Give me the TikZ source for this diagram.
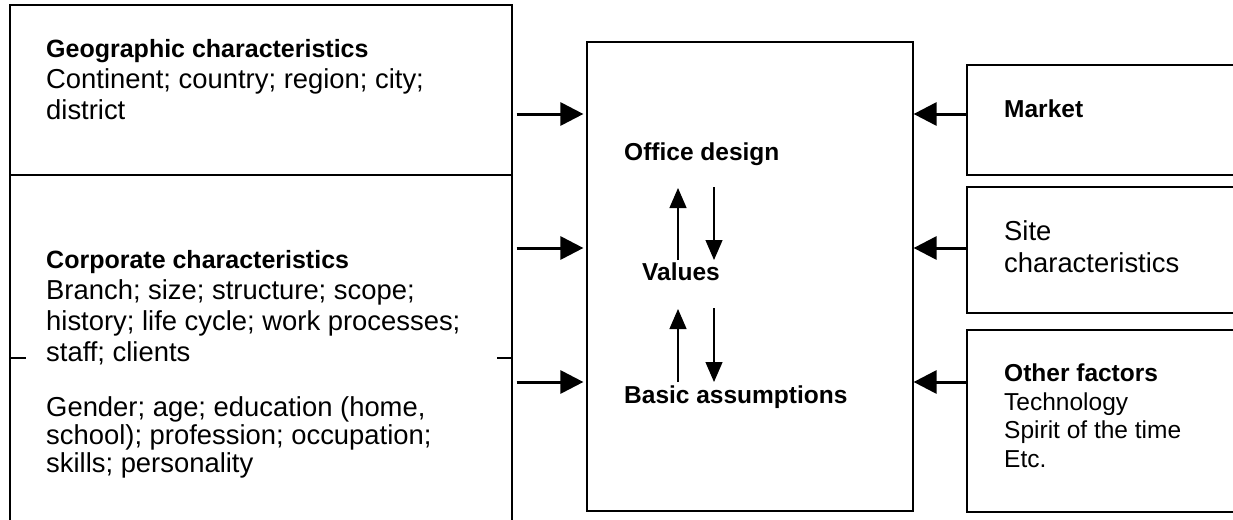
\documentclass[tikz,border=0pt]{standalone}
\usepackage{fontspec}
\setmainfont{Liberation Sans}
\usetikzlibrary{arrows.meta,positioning}

\newcommand{\headfont}{\fontsize{25}{31}\bfseries}
\tikzset{
    panel/.style={draw, line width=1.2pt, inner sep=0pt},
    txt/.style={anchor=base west, align=left, inner sep=0pt,
                font=\fontsize{24.5}{28.5}\selectfont},
    bigtxt/.style={txt, font=\fontsize{27.4}{31}\selectfont},
    bigarrow/.style={line width=3pt, -{Triangle[length=23pt,width=23pt]}},
    thinarrow/.style={line width=1.2pt, -{Triangle[length=20pt,width=17pt]}},
}

\begin{document}
\begin{tikzpicture}[x=1pt,y=-1pt]
                    \useasboundingbox (0,0) rectangle (1233,519);

                    % left column (text nodes sit on the baseline of their last line)
                    \node[panel, minimum width=502pt, minimum height=170pt] (geo) at (261,90) {};
                    \node[panel, minimum width=502pt, minimum height=365pt] (corp) at (261,357.5) {};
                    \node[bigtxt] (geotxt) at (46,119) {{\headfont Geographic characteristics}\\Continent; country; region; city;\\district};
                    \node[bigtxt] (corptxt) at (46,361) {{\headfont Corporate characteristics}\\Branch; size; structure; scope;\\history; life cycle; work processes;\\staff; clients};
                    \node[bigtxt, font=\fontsize{27.4}{28}\selectfont] (perstxt) at (46,472.5) {Gender; age; education (home,\\school); profession; occupation;\\skills; personality};
                    \coordinate (tk) at (0,358);
                    \draw[line width=1.2pt] (corp.west |- tk) --++(17,0);
                    \draw[line width=1.2pt] (corp.east |- tk) --++(-16,0);

                    % middle
                    \node[panel, minimum width=326pt, minimum height=469pt] (office) at (750,276.5) {};
                    \node[txt] (design) at (624,160.5) {\bfseries Office design};
                    \node[txt] (values) at (642,280.5) {\bfseries Values};
                    \node[txt] (basic) at (624,403.5) {\bfseries Basic assumptions};
                    \coordinate (up1) at (678,260);  \coordinate (up1e) at (678,188);
                    \coordinate (dn1) at (714,187);  \coordinate (dn1e) at (714,260);
                    \coordinate (up2) at (678,382);  \coordinate (up2e) at (678,309);
                    \coordinate (dn2) at (714,308);  \coordinate (dn2e) at (714,382);
                    \draw[thinarrow] (up1)--(up1e);
                    \draw[thinarrow] (dn1)--(dn1e);
                    \draw[thinarrow] (up2)--(up2e);
                    \draw[thinarrow] (dn2)--(dn2e);

                    % right column
                    \node[panel, minimum width=293pt, minimum height=110pt] (market) at (1113.5,120) {};
                    \node[panel, minimum width=293pt, minimum height=126pt] (site) at (1113.5,250) {};
                    \node[panel, minimum width=293pt, minimum height=182pt] (other) at (1113.5,421) {};
                    \node[txt] (markettxt) at (1004,117.5) {\bfseries Market};
                    \node[bigtxt, font=\fontsize{27.4}{32}\selectfont] (sitetxt) at (1004,272.5) {Site\\characteristics};
                    \node[txt] (othertxt) at (1004,467) {\bfseries Other factors\\Technology\\Spirit of the time\\Etc.};

                    % arrows into the office box
                    \coordinate (r1) at (0,114);
                    \coordinate (r2) at (0,248);
                    \coordinate (r3) at (0,382);
                    \draw[bigarrow, shorten <=4pt, shorten >=3pt] (geo.east |- r1)--(office.west |- r1);
                    \draw[bigarrow, shorten <=4pt, shorten >=3pt] (corp.east |- r2)--(office.west |- r2);
                    \draw[bigarrow, shorten <=4pt, shorten >=3pt] (corp.east |- r3)--(office.west |- r3);
                    \draw[bigarrow] (market.west |- r1)--(office.east |- r1);
                    \draw[bigarrow] (site.west |- r2)--(office.east |- r2);
                    \draw[bigarrow] (other.west |- r3)--(office.east |- r3);
                \end{tikzpicture}
\end{document}
